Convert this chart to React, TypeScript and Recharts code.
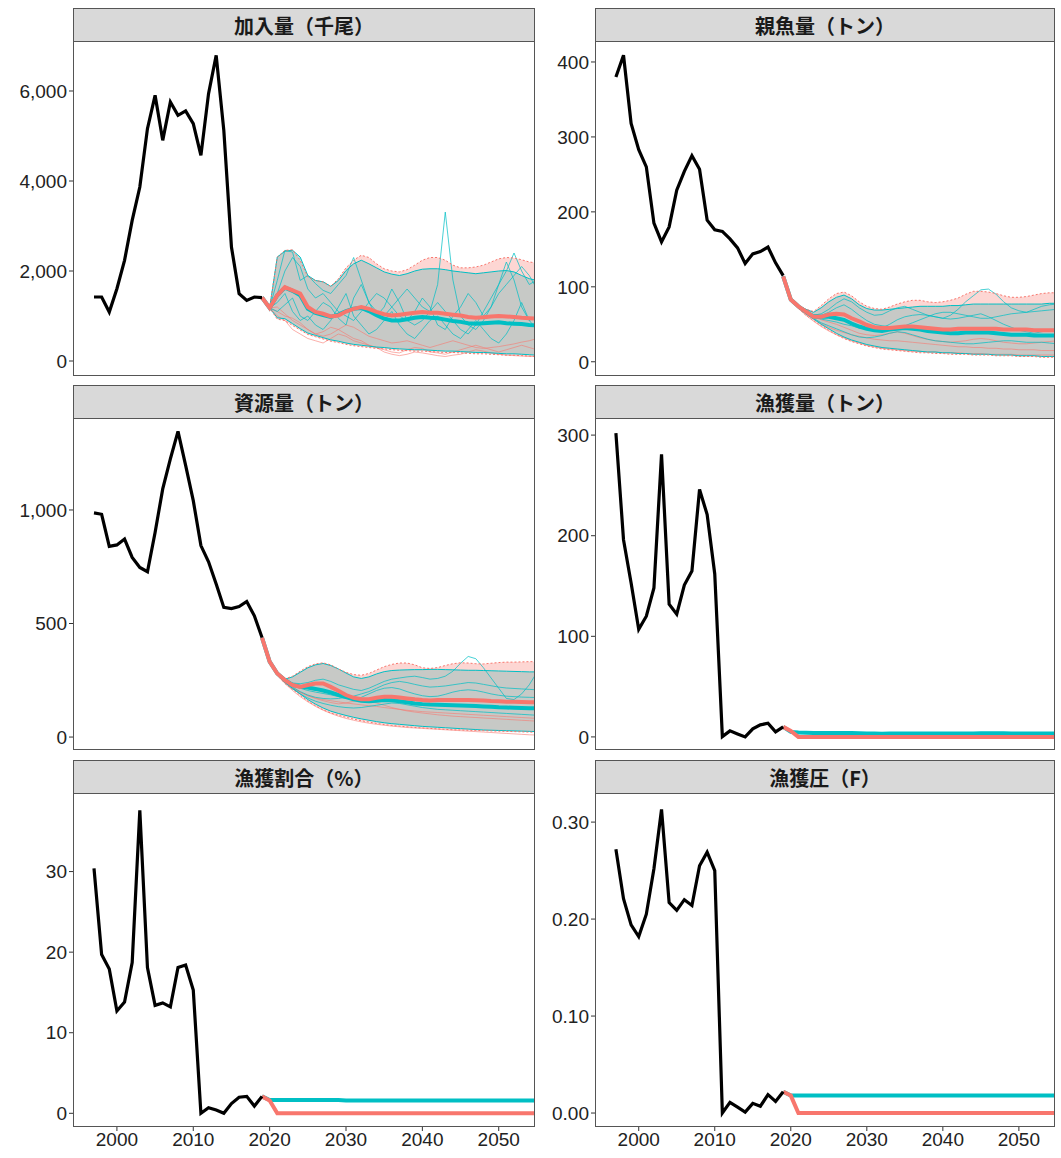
import React from "react";
import { ComposedChart, Line, Area, XAxis, YAxis } from "recharts";

// observed years and projection years
const histYears = [1997, 1998, 1999, 2000, 2001, 2002, 2003, 2004, 2005, 2006, 2007, 2008, 2009, 2010, 2011, 2012, 2013, 2014, 2015, 2016, 2017, 2018, 2019];
const projYears = [2019, 2020, 2021, 2022, 2023, 2024, 2025, 2026, 2027, 2028, 2029, 2030, 2031, 2032, 2033, 2034, 2035, 2036, 2037, 2038, 2039, 2040, 2041, 2042, 2043, 2044, 2045, 2046, 2047, 2048, 2049, 2050, 2051, 2052, 2053, 2054, 2055];
const xTicks = [2000, 2010, 2020, 2030, 2040, 2050];

// 加入量（千尾）
const recHist = [1422, 1422, 1089, 1607, 2237, 3126, 3867, 5163, 5904, 4904, 5756, 5459, 5556, 5274, 4570, 5941, 6793, 5126, 2533, 1496, 1348, 1422, 1407];
const recMedRed = [1410, 1180, 1460, 1640, 1570, 1500, 1200, 1090, 1050, 990, 1010, 1100, 1160, 1200, 1160, 1090, 1040, 1010, 1030, 1050, 1070, 1090, 1070, 1070, 1050, 1030, 1010, 980, 960, 970, 990, 1000, 990, 980, 960, 950, 940];
const recMedCyan = [1410, 1180, 1460, 1630, 1560, 1460, 1160, 1070, 1020, 980, 1030, 1110, 1160, 1180, 1110, 1020, 940, 900, 900, 930, 960, 980, 960, 950, 920, 890, 870, 840, 830, 840, 850, 860, 840, 830, 820, 800, 790];
const recHiCyan = [1410, 1180, 2310, 2440, 2460, 2310, 1900, 1790, 1760, 1660, 1790, 2010, 2160, 2240, 2160, 2070, 1980, 1930, 1900, 1940, 2000, 2040, 2050, 2050, 2030, 2000, 1980, 1960, 1940, 1960, 1980, 2000, 2010, 1980, 1900, 1830, 1790];
const recHiRed = [1410, 1180, 2310, 2460, 2470, 2240, 1870, 1790, 1760, 1660, 1830, 2070, 2240, 2350, 2300, 2160, 2050, 2000, 1980, 2030, 2130, 2240, 2300, 2300, 2240, 2130, 2070, 2070, 2090, 2130, 2200, 2270, 2300, 2290, 2250, 2200, 2180];
const recLoCyan = [1410, 1180, 960, 940, 830, 720, 620, 570, 520, 470, 440, 400, 370, 350, 330, 310, 300, 280, 270, 260, 250, 250, 240, 230, 220, 220, 210, 200, 190, 190, 180, 170, 160, 160, 150, 140, 130];
const recLoRed = [1410, 1180, 930, 900, 790, 690, 590, 540, 490, 440, 410, 370, 340, 320, 300, 280, 270, 250, 240, 230, 220, 220, 210, 200, 190, 190, 180, 170, 160, 160, 150, 140, 130, 130, 120, 110, 100];
const recRunsCyan = [
  [1410, 1180, 1790, 2460, 2420, 1790, 1900, 1720, 1570, 1500, 1700, 1900, 2300, 1800, 1300, 1100, 1000, 1200, 1400, 1600, 1400, 1200, 1100, 1700, 3310, 1800, 1000, 800, 700, 900, 1200, 1500, 1700, 1900, 2100, 1900, 1600],
  [1410, 1180, 1300, 1500, 1100, 900, 1000, 800, 700, 900, 1200, 1500, 1000, 800, 600, 700, 900, 1100, 800, 600, 500, 700, 900, 1000, 800, 600, 500, 700, 900, 700, 500, 400, 600, 900, 1300, 900, 700],
  [1410, 1180, 1100, 1250, 1400, 1000, 900, 1100, 1300, 1200, 950, 800, 1400, 1700, 1300, 1000, 1200, 1600, 1300, 900, 1100, 1400, 1200, 800, 700, 1000, 1200, 1500, 1300, 1000, 1200, 1700, 2200, 1800, 1200, 900, 1000],
  [1410, 1180, 1500, 2000, 2300, 2100, 1600, 1400, 1500, 1300, 1100, 1000, 900, 1100, 1300, 1500, 1400, 1200, 1000, 900, 800, 900, 1100, 1300, 1100, 900, 700, 600, 800, 1100, 1400, 1700, 2000, 2400, 2000, 1700, 1800],
];
const recRunsRed = [
  [1410, 1180, 1000, 900, 700, 600, 500, 450, 400, 500, 600, 550, 450, 400, 350, 300, 250, 200, 180, 250, 300, 280, 200, 180, 150, 200, 250, 300, 350, 300, 250, 200, 250, 300, 350, 300, 250],
  [1410, 1180, 1200, 1050, 900, 800, 700, 600, 650, 750, 700, 600, 500, 450, 350, 300, 200, 150, 120, 150, 200, 180, 150, 120, 100, 130, 150, 200, 250, 220, 180, 150, 130, 120, 110, 100, 100],
  [1410, 1180, 1100, 1000, 950, 850, 700, 600, 550, 600, 700, 800, 750, 650, 550, 500, 450, 400, 420, 450, 400, 350, 300, 350, 400, 450, 400, 350, 300, 280, 300, 320, 350, 380, 420, 450, 500],
];

// 親魚量（トン）
const ssbHist = [380, 409, 318, 283, 260, 185, 160, 180, 229, 254, 275, 257, 189, 176, 174, 164, 152, 131, 144, 147, 153, 132, 115];
const ssbMedRed = [114, 83, 74, 67, 60, 60, 63, 64, 63, 58, 54, 49, 46, 45, 45, 46, 47, 47, 46, 45, 44, 43, 43, 44, 44, 44, 44, 44, 44, 43, 43, 43, 43, 42, 42, 42, 42];
const ssbMedCyan = [114, 83, 74, 67, 60, 60, 60, 58, 56, 51, 47, 44, 42, 41, 43, 44, 45, 44, 43, 41, 40, 39, 38, 38, 39, 39, 39, 39, 38, 37, 36, 36, 36, 35, 35, 35, 35];
const ssbHiCyan = [114, 83, 75, 70, 66, 72, 80, 86, 89, 84, 76, 71, 69, 69, 70, 71, 72, 73, 74, 74, 74, 74, 75, 75, 76, 77, 77, 77, 77, 77, 77, 77, 77, 77, 77, 78, 78];
const ssbHiRed = [114, 83, 75, 70, 67, 75, 84, 91, 93, 88, 80, 74, 71, 70, 73, 77, 80, 82, 82, 80, 79, 80, 82, 85, 90, 94, 94, 93, 91, 88, 86, 86, 87, 89, 91, 92, 92];
const ssbLoCyan = [114, 83, 72, 64, 57, 50, 44, 38, 33, 29, 26, 23, 21, 19, 18, 17, 16, 15, 14, 13, 13, 12, 12, 11, 11, 10, 10, 10, 9, 9, 9, 8, 8, 8, 7, 7, 7];
const ssbLoRed = [114, 83, 71, 62, 55, 48, 42, 36, 31, 27, 24, 21, 19, 17, 16, 15, 14, 13, 12, 12, 11, 11, 10, 10, 10, 9, 9, 9, 8, 8, 8, 7, 7, 7, 6, 6, 6];
const ssbRunsCyan = [
  [114, 83, 74, 67, 62, 64, 70, 78, 84, 80, 72, 66, 62, 63, 68, 72, 74, 70, 66, 62, 60, 58, 62, 70, 80, 88, 96, 97, 90, 80, 72, 68, 66, 70, 74, 76, 77],
  [114, 83, 73, 66, 60, 57, 55, 53, 50, 48, 45, 44, 43, 45, 50, 56, 60, 62, 63, 62, 60, 58, 57, 58, 60, 62, 64, 60, 55, 50, 46, 42, 40, 38, 40, 42, 44],
  [114, 83, 72, 64, 58, 52, 48, 44, 40, 36, 33, 32, 33, 35, 38, 40, 39, 36, 33, 30, 28, 27, 26, 25, 24, 24, 25, 26, 27, 28, 28, 27, 26, 26, 26, 25, 24],
  [114, 83, 74, 68, 63, 62, 66, 72, 76, 70, 62, 55, 50, 48, 47, 46, 48, 52, 56, 60, 64, 66, 66, 64, 62, 60, 58, 58, 60, 62, 64, 65, 66, 67, 68, 69, 70],
];
const ssbRunsRed = [
  [114, 83, 71, 62, 54, 47, 41, 36, 32, 28, 25, 22, 20, 18, 17, 16, 15, 14, 14, 13, 13, 12, 12, 12, 11, 11, 11, 10, 10, 10, 10, 9, 9, 9, 9, 9, 9],
  [114, 83, 72, 64, 57, 51, 46, 42, 39, 36, 34, 32, 30, 29, 28, 28, 27, 26, 25, 24, 23, 22, 21, 20, 20, 19, 19, 18, 18, 17, 17, 16, 16, 16, 15, 15, 15],
  [114, 83, 73, 66, 60, 56, 53, 50, 46, 42, 38, 36, 35, 36, 38, 40, 38, 35, 32, 30, 28, 27, 26, 27, 28, 30, 31, 30, 28, 26, 25, 24, 24, 25, 26, 27, 28],
];

// 資源量（トン）
const bioHist = [987, 981, 840, 846, 872, 791, 747, 728, 901, 1093, 1225, 1346, 1196, 1041, 843, 772, 674, 571, 566, 575, 597, 534, 438];
const bioMedRed = [438, 332, 280, 251, 229, 221, 229, 236, 236, 221, 204, 185, 173, 167, 167, 173, 177, 177, 174, 170, 166, 163, 161, 163, 163, 163, 163, 163, 162, 161, 159, 158, 156, 155, 154, 153, 153];
const bioMedCyan = [438, 332, 280, 251, 230, 222, 218, 212, 205, 196, 186, 176, 166, 160, 158, 160, 163, 162, 158, 153, 148, 145, 143, 142, 141, 140, 139, 138, 137, 135, 133, 131, 130, 129, 128, 127, 127];
const bioHiCyan = [438, 332, 280, 255, 265, 285, 305, 318, 324, 315, 300, 282, 265, 258, 265, 278, 288, 293, 295, 296, 297, 297, 298, 298, 297, 296, 295, 294, 294, 293, 292, 291, 290, 289, 288, 287, 287];
const bioHiRed = [438, 332, 280, 256, 268, 290, 310, 322, 327, 318, 300, 285, 275, 272, 280, 295, 310, 320, 326, 326, 318, 305, 302, 306, 315, 323, 327, 326, 323, 322, 325, 328, 330, 330, 331, 332, 332];
const bioLoCyan = [438, 332, 275, 240, 215, 190, 165, 145, 128, 114, 104, 95, 87, 80, 74, 68, 63, 59, 56, 53, 50, 47, 45, 43, 41, 39, 37, 35, 33, 31, 30, 29, 28, 27, 26, 25, 24];
const bioLoRed = [438, 332, 272, 236, 210, 184, 158, 138, 120, 106, 96, 87, 79, 72, 66, 60, 55, 51, 48, 45, 42, 40, 38, 36, 34, 32, 31, 30, 29, 28, 27, 26, 25, 24, 23, 22, 21];
const bioRunsCyan = [
  [438, 332, 280, 250, 238, 235, 240, 250, 255, 245, 230, 220, 210, 205, 215, 230, 245, 255, 260, 265, 268, 262, 255, 258, 268, 290, 325, 355, 345, 305, 260, 215, 170, 165, 190, 230, 285],
  [438, 332, 278, 245, 220, 200, 185, 175, 170, 168, 170, 175, 180, 190, 200, 215, 230, 240, 245, 240, 232, 225, 220, 222, 225, 230, 235, 240, 238, 232, 226, 220, 216, 214, 212, 210, 208],
  [438, 332, 276, 240, 212, 190, 172, 158, 148, 140, 134, 130, 128, 130, 135, 140, 145, 150, 148, 142, 136, 130, 126, 122, 120, 118, 116, 114, 112, 110, 108, 106, 104, 102, 100, 98, 96],
  [438, 332, 278, 246, 228, 215, 205, 198, 192, 186, 178, 170, 168, 175, 190, 205, 215, 218, 212, 200, 190, 182, 178, 180, 188, 198, 205, 208, 205, 198, 190, 184, 180, 178, 176, 175, 174],
];
const bioRunsRed = [
  [438, 332, 274, 236, 205, 178, 155, 135, 118, 104, 92, 82, 74, 67, 61, 56, 52, 48, 45, 42, 40, 38, 36, 34, 32, 30, 28, 26, 24, 22, 20, 18, 16, 14, 12, 10, 9],
  [438, 332, 277, 243, 218, 198, 182, 170, 160, 152, 146, 150, 158, 165, 160, 150, 140, 130, 122, 115, 110, 106, 102, 98, 95, 92, 90, 88, 86, 84, 82, 80, 78, 76, 74, 72, 70],
  [438, 332, 276, 240, 215, 196, 182, 172, 165, 160, 155, 150, 146, 142, 138, 135, 130, 126, 122, 118, 115, 112, 110, 108, 106, 104, 102, 100, 98, 96, 94, 92, 90, 88, 86, 84, 82],
];

// 漁獲量（トン）
const catchHist = [302, 196, 153, 107, 120, 148, 281, 132, 122, 151, 165, 246, 221, 162, 0.3, 6, 3, 0, 8, 12, 13.6, 5, 10];
const catchMedRed = [10, 6, 0, 0, 0, 0, 0, 0, 0, 0, 0, 0, 0, 0, 0, 0, 0, 0, 0, 0, 0, 0, 0, 0, 0, 0, 0, 0, 0, 0, 0, 0, 0, 0, 0, 0, 0];
const catchMedCyan = [10, 5, 4.5, 4.2, 4.0, 3.8, 3.8, 3.9, 3.9, 3.8, 3.6, 3.4, 3.3, 3.2, 3.3, 3.4, 3.5, 3.5, 3.5, 3.4, 3.3, 3.3, 3.3, 3.4, 3.4, 3.5, 3.6, 3.6, 3.7, 3.6, 3.5, 3.5, 3.4, 3.4, 3.4, 3.4, 3.4];

// 漁獲割合（%）
const rateHist = [30.4, 19.7, 17.9, 12.7, 13.8, 18.7, 37.6, 18.1, 13.4, 13.7, 13.2, 18.1, 18.4, 15.3, 0, 0.7, 0.4, 0, 1.2, 2.0, 2.1, 0.9, 2.1];
const rateMedRed = [2.1, 1.6, 0, 0, 0, 0, 0, 0, 0, 0, 0, 0, 0, 0, 0, 0, 0, 0, 0, 0, 0, 0, 0, 0, 0, 0, 0, 0, 0, 0, 0, 0, 0, 0, 0, 0, 0];
const rateMedCyan = [2.1, 1.65, 1.65, 1.65, 1.65, 1.65, 1.65, 1.65, 1.65, 1.65, 1.65, 1.6, 1.6, 1.6, 1.6, 1.6, 1.6, 1.6, 1.6, 1.6, 1.6, 1.6, 1.6, 1.6, 1.6, 1.6, 1.6, 1.6, 1.6, 1.6, 1.6, 1.6, 1.6, 1.6, 1.6, 1.6, 1.6];

// 漁獲圧（F）
const fHist = [0.272, 0.221, 0.194, 0.182, 0.205, 0.252, 0.313, 0.217, 0.209, 0.22, 0.214, 0.255, 0.269, 0.25, 0.0, 0.011, 0.006, 0.001, 0.01, 0.007, 0.019, 0.012, 0.022];
const fMedRed = [0.022, 0.018, 0, 0, 0, 0, 0, 0, 0, 0, 0, 0, 0, 0, 0, 0, 0, 0, 0, 0, 0, 0, 0, 0, 0, 0, 0, 0, 0, 0, 0, 0, 0, 0, 0, 0, 0];
const fMedCyan = [0.022, 0.018, 0.018, 0.018, 0.018, 0.018, 0.018, 0.018, 0.018, 0.018, 0.018, 0.018, 0.018, 0.018, 0.018, 0.018, 0.018, 0.018, 0.018, 0.018, 0.018, 0.018, 0.018, 0.018, 0.018, 0.018, 0.018, 0.018, 0.018, 0.018, 0.018, 0.018, 0.018, 0.018, 0.018, 0.018, 0.018];

const RED = "#F8766D";
const CYAN = "#00BFC4";

interface Proj {
  medR: number[];
  medC: number[];
  hiR?: number[];
  loR?: number[];
  hiC?: number[];
  loC?: number[];
  runsC?: number[][];
  runsR?: number[][];
}

function buildRows(p: Proj) {
  return projYears.map((year, i) => {
    const row: Record<string, any> = { year, medR: p.medR[i], medC: p.medC[i] };
    if (p.hiR && p.loR) {
      row.hiR = p.hiR[i];
      row.loR = p.loR[i];
      row.bandR = [p.loR[i], p.hiR[i]];
    }
    if (p.hiC && p.loC) {
      row.hiC = p.hiC[i];
      row.loC = p.loC[i];
      row.bandC = [p.loC[i], p.hiC[i]];
    }
    (p.runsC || []).forEach((r, k) => (row["c" + k] = r[i]));
    (p.runsR || []).forEach((r, k) => (row["r" + k] = r[i]));
    return row;
  });
}

const COLS = [
  { left: 0, yw: 73, width: 540, plotW: 462 },
  { left: 540, yw: 55, width: 521, plotW: 460 },
];
const ROWS = [
  { strip: 8, plot: 41, h: 335 },
  { strip: 385, plot: 418, h: 332 },
  { strip: 760, plot: 793, h: 334 },
];

const tickFont = { fontSize: 19, fill: "#222", fontFamily: "'Liberation Sans', Arial, sans-serif" };

interface PanelProps {
  title: string;
  col: number;
  row: number;
  hist: number[];
  proj: Proj;
  domain: [number, number];
  ticks: number[];
  fmt: (v: number) => string;
  showX?: boolean;
}

function Panel({ title, col, row, hist, proj, domain, ticks, fmt, showX }: PanelProps) {
  const c = COLS[col];
  const r = ROWS[row];
  const rows = buildRows(proj);
  const histRows = histYears.map((year, i) => ({ year, v: hist[i] }));
  const axisH = showX ? 32 : 0;
  const hasBand = !!(proj.hiR && proj.hiC);

  return (
    <>
      <div
        style={{
          position: "absolute",
          left: c.left + c.yw,
          top: r.strip,
          width: c.plotW,
          height: r.plot - r.strip + 1,
          boxSizing: "border-box",
          background: "#D9D9D9",
          border: "1px solid #555",
          display: "flex",
          alignItems: "center",
          justifyContent: "center",
          fontFamily: "'Noto Sans CJK JP', sans-serif",
          fontWeight: 700,
          fontSize: 20,
          color: "#1a1a1a",
        }}
      >
        {title}
      </div>
      <div style={{ position: "absolute", left: c.left, top: r.plot }}>
        <ComposedChart
          width={c.width}
          height={r.h + axisH}
          data={rows}
          margin={{ top: 0, right: c.width - c.yw - c.plotW, bottom: 0, left: 0 }}
        >
          <XAxis
            type="number"
            dataKey="year"
            domain={[1994.25, 2054.75]}
            ticks={xTicks}
            allowDataOverflow
            hide={!showX}
            height={axisH || 1}
            axisLine={false}
            tickLine={{ stroke: "#333" }}
            tickSize={4}
            tick={tickFont}
            interval={0}
          />
          <YAxis
            type="number"
            width={c.yw}
            domain={domain}
            ticks={ticks}
            allowDataOverflow
            axisLine={false}
            tickLine={{ stroke: "#333" }}
            tickSize={4}
            tick={tickFont}
            tickFormatter={fmt}
            interval={0}
          />
          {hasBand && (
            <Area type="linear" dataKey="bandC" stroke="none" fill={CYAN} fillOpacity={0.3} isAnimationActive={false} dot={false} activeDot={false} />
          )}
          {hasBand && (
            <Area type="linear" dataKey="bandR" stroke="none" fill={RED} fillOpacity={0.3} isAnimationActive={false} dot={false} activeDot={false} />
          )}
          {(proj.runsR || []).map((_, k) => (
            <Line key={"r" + k} type="linear" dataKey={"r" + k} stroke={RED} strokeWidth={0.9} strokeOpacity={0.65} dot={false} activeDot={false} isAnimationActive={false} />
          ))}
          {(proj.runsC || []).map((_, k) => (
            <Line key={"c" + k} type="linear" dataKey={"c" + k} stroke={CYAN} strokeWidth={0.9} strokeOpacity={0.8} dot={false} activeDot={false} isAnimationActive={false} />
          ))}
          {hasBand && <Line type="linear" dataKey="hiC" stroke={CYAN} strokeWidth={1} dot={false} activeDot={false} isAnimationActive={false} />}
          {hasBand && <Line type="linear" dataKey="loC" stroke={CYAN} strokeWidth={1} dot={false} activeDot={false} isAnimationActive={false} />}
          {hasBand && <Line type="linear" dataKey="hiR" stroke={RED} strokeWidth={1} strokeDasharray="2 2" dot={false} activeDot={false} isAnimationActive={false} />}
          {hasBand && <Line type="linear" dataKey="loR" stroke={RED} strokeWidth={1} strokeDasharray="2 2" dot={false} activeDot={false} isAnimationActive={false} />}
          <Line type="linear" dataKey="medC" stroke={CYAN} strokeWidth={4} dot={false} activeDot={false} isAnimationActive={false} />
          <Line type="linear" dataKey="medR" stroke={RED} strokeWidth={4} dot={false} activeDot={false} isAnimationActive={false} />
          <Line data={histRows} type="linear" dataKey="v" stroke="#000" strokeWidth={3.2} dot={false} activeDot={false} isAnimationActive={false} />
        </ComposedChart>
      </div>
      <div
        style={{
          position: "absolute",
          left: c.left + c.yw,
          top: r.plot,
          width: c.plotW,
          height: r.h,
          boxSizing: "border-box",
          border: "1px solid #555",
          pointerEvents: "none",
        }}
      />
    </>
  );
}

const comma = (v: number) => v.toLocaleString("en-US");
const plain = (v: number) => String(v);
const two = (v: number) => v.toFixed(2);

export default function App() {
  return (
    <div style={{ position: "absolute", left: 0, top: 0, width: 1061, height: 1158, background: "#fff" }}>
      <Panel
        title="加入量（千尾）"
        col={0}
        row={0}
        hist={recHist}
        proj={{ medR: recMedRed, medC: recMedCyan, hiR: recHiRed, loR: recLoRed, hiC: recHiCyan, loC: recLoCyan, runsC: recRunsCyan, runsR: recRunsRed }}
        domain={[-333, 7111]}
        ticks={[0, 2000, 4000, 6000]}
        fmt={comma}
      />
      <Panel
        title="親魚量（トン）"
        col={1}
        row={0}
        hist={ssbHist}
        proj={{ medR: ssbMedRed, medC: ssbMedCyan, hiR: ssbHiRed, loR: ssbLoRed, hiC: ssbHiCyan, loC: ssbLoCyan, runsC: ssbRunsCyan, runsR: ssbRunsRed }}
        domain={[-19, 428]}
        ticks={[0, 100, 200, 300, 400]}
        fmt={plain}
      />
      <Panel
        title="資源量（トン）"
        col={0}
        row={1}
        hist={bioHist}
        proj={{ medR: bioMedRed, medC: bioMedCyan, hiR: bioHiRed, loR: bioLoRed, hiC: bioHiCyan, loC: bioLoCyan, runsC: bioRunsCyan, runsR: bioRunsRed }}
        domain={[-57, 1405]}
        ticks={[0, 500, 1000]}
        fmt={comma}
      />
      <Panel
        title="漁獲量（トン）"
        col={1}
        row={1}
        hist={catchHist}
        proj={{ medR: catchMedRed, medC: catchMedCyan }}
        domain={[-13, 317]}
        ticks={[0, 100, 200, 300]}
        fmt={plain}
      />
      <Panel
        title="漁獲割合（%）"
        col={0}
        row={2}
        hist={rateHist}
        proj={{ medR: rateMedRed, medC: rateMedCyan }}
        domain={[-1.7, 39.75]}
        ticks={[0, 10, 20, 30]}
        fmt={plain}
        showX
      />
      <Panel
        title="漁獲圧（F）"
        col={1}
        row={2}
        hist={fHist}
        proj={{ medR: fMedRed, medC: fMedCyan }}
        domain={[-0.0144, 0.33]}
        ticks={[0, 0.1, 0.2, 0.3]}
        fmt={two}
        showX
      />
    </div>
  );
}
